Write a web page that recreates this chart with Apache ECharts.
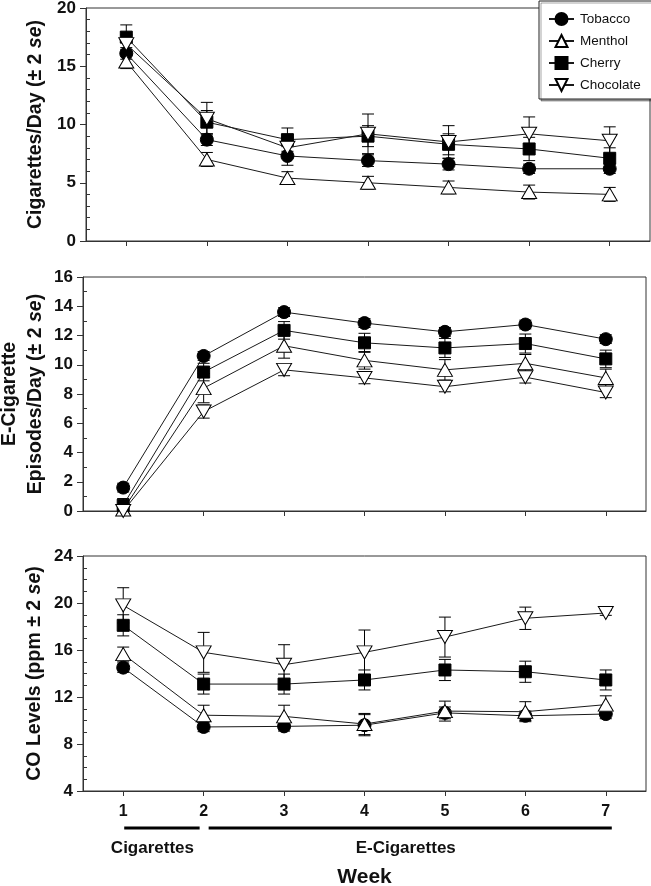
<!DOCTYPE html>
<html>
<head>
<meta charset="utf-8">
<script src="https://cdn.jsdelivr.net/npm/echarts@6/dist/echarts.min.js"></script>
<style>
html,body{margin:0;padding:0;background:#fff;}
#main{width:651px;height:886px;}
</style>
</head>
<body>
<div id="main"></div>
<script>
// ---------- data ----------
const weeks = ['1', '2', '3', '4', '5', '6', '7'];
const flavors = ['Tobacco', 'Menthol', 'Cherry', 'Chocolate'];

// Panel 1: Cigarettes/Day
const cigTobacco   = [16.1, 8.7, 7.3, 6.9, 6.6, 6.2, 6.2];
const cigTobaccoErr = [0.5, 0.5, 0.8, 0.5, 0.5, 0.4, 0.4];
const cigMenthol   = [15.4, 7.0, 5.4, 5.0, 4.6, 4.2, 4.0];
const cigMentholErr = [0.6, 0.6, 0.55, 0.55, 0.55, 0.6, 0.6];
const cigCherry    = [17.5, 10.2, 8.7, 9.0, 8.3, 7.9, 7.1];
const cigCherryErr = [1.05, 1.0, 1.0, 0.9, 0.9, 1.0, 0.9];
const cigChocolate = [16.9, 10.5, 8.0, 9.2, 8.5, 9.2, 8.6];
const cigChocolateErr = [0.8, 1.4, 0.9, 1.7, 1.4, 1.45, 1.2];

// Panel 2: E-Cigarette Episodes/Day
const ecTobacco   = [1.6, 10.6, 13.6, 12.85, 12.25, 12.75, 11.75];
const ecTobaccoErr = [0.3, 0.3, 0.3, 0.3, 0.3, 0.3, 0.3];
const ecMenthol   = [0.1, 8.4, 11.3, 10.3, 9.65, 10.1, 9.1];
const ecMentholErr = [0.3, 1.0, 0.85, 0.6, 0.7, 0.6, 0.6];
const ecCherry    = [0.4, 9.5, 12.35, 11.5, 11.15, 11.45, 10.4];
const ecCherryErr = [0.45, 0.6, 0.6, 0.65, 0.65, 0.65, 0.6];
const ecChocolate = [0.0, 6.8, 9.65, 9.1, 8.5, 9.15, 8.1];
const ecChocolateErr = [0.2, 0.45, 0.4, 0.4, 0.35, 0.4, 0.35];

// Panel 3: CO Levels
const coTobacco   = [14.5, 9.45, 9.5, 9.6, 10.65, 10.4, 10.55];
const coTobaccoErr = [0.4, 0.4, 0.4, 0.9, 0.5, 0.4, 0.4];
const coMenthol   = [15.65, 10.45, 10.35, 9.7, 10.8, 10.75, 11.35];
const coMentholErr = [0.6, 0.85, 0.95, 0.9, 0.85, 0.85, 0.75];
const coCherry    = [18.1, 13.1, 13.1, 13.45, 14.3, 14.15, 13.45];
const coCherryErr = [0.9, 0.85, 0.85, 0.85, 0.9, 0.9, 0.85];
const coChocolate = [19.8, 15.8, 14.75, 15.8, 17.1, 18.7, 19.15];
const coChocolateErr = [1.5, 1.7, 1.7, 1.9, 1.7, 0.95, 0.2];

// axis tick settings
const yMins = [0, 0, 4];
const yMaxs = [20, 16, 24];
const yIntervals = [5, 2, 4];
const yMinorSplits = [5, 2, 4];
const yTitles = [
  'Cigarettes/Day (± 2 {i|se})',
  'E-Cigarette\nEpisodes/Day (± 2 {i|se})',
  'CO Levels (ppm ± 2 {i|se})'
];
const periodLabels = ['Cigarettes', 'E-Cigarettes'];
const xTitle = 'Week';

const panels = [
  [cigTobacco, cigMenthol, cigCherry, cigChocolate],
  [ecTobacco, ecMenthol, ecCherry, ecChocolate],
  [coTobacco, coMenthol, coCherry, coChocolate]
];
const panelErrs = [
  [cigTobaccoErr, cigMentholErr, cigCherryErr, cigChocolateErr],
  [ecTobaccoErr, ecMentholErr, ecCherryErr, ecChocolateErr],
  [coTobaccoErr, coMentholErr, coCherryErr, coChocolateErr]
];

// ---------- styles ----------
const FONT = 'Liberation Sans, Arial, sans-serif';
const INK = '#111';
const AXIS = '#333';
const downTri = 'path://M0,0 L20,0 L10,17 Z';
const upTri = 'path://M10,0 L20,17 L0,17 Z';
const flavorStyle = [
  { symbol: 'circle', size: 13, fill: '#000' },
  { symbol: upTri, size: [15, 13], fill: '#fff' },
  { symbol: 'rect', size: 12, fill: '#000' },
  { symbol: downTri, size: [15, 13], fill: '#fff' }
];
const nameGaps = [37, 34, 35];

const grids = [
  { left: 86, top: 8, width: 564, height: 233 },
  { left: 83, top: 277, width: 563, height: 234 },
  { left: 83, top: 556, width: 563, height: 235 }
].map(g => Object.assign({
  show: true, borderColor: AXIS, borderWidth: 1, backgroundColor: 'transparent',
  containLabel: false, outerBoundsMode: 'none'
}, g));

const xAxes = [0, 1, 2].map(p => ({
  gridIndex: p,
  type: 'category',
  data: weeks,
  boundaryGap: true,
  axisLine: { show: true, lineStyle: { color: AXIS, width: 1 } },
  axisTick: { show: true, alignWithLabel: true, length: 5, lineStyle: { color: AXIS } },
  axisLabel: {
    show: p === 2, margin: 13, fontSize: 16, fontWeight: 'bold', color: INK, fontFamily: FONT
  },
  splitLine: { show: false }
}));

const yAxes = [];
[0, 1, 2].forEach(p => {
  yAxes.push({
    gridIndex: p,
    type: 'value',
    position: 'left',
    min: yMins[p], max: yMaxs[p], interval: yIntervals[p],
    axisLine: { show: true, lineStyle: { color: AXIS, width: 1 } },
    axisTick: { show: true, length: 6, lineStyle: { color: AXIS } },
    axisLabel: { margin: 10, fontSize: 17, fontWeight: 'bold', color: INK, fontFamily: FONT },
    splitLine: { show: false },
    name: yTitles[p],
    nameLocation: 'middle',
    nameRotate: 90,
    nameGap: nameGaps[p],
    nameMoveOverlap: false,
    nameTextStyle: {
      fontSize: 19.5, fontWeight: 'bold', color: INK, fontFamily: FONT, lineHeight: 26,
      rich: { i: { fontSize: 19.5, fontWeight: 'bold', fontStyle: 'italic', color: INK, fontFamily: FONT, lineHeight: 26 } }
    }
  });
  yAxes.push({
    gridIndex: p,
    type: 'value',
    position: 'left',
    min: yMins[p], max: yMaxs[p], interval: yIntervals[p],
    axisLine: { show: false },
    axisTick: { show: false, inside: true },
    minorTick: { show: true, splitNumber: yMinorSplits[p], length: 4, lineStyle: { color: AXIS } },
    axisLabel: { show: false },
    splitLine: { show: false }
  });
});

const series = [];
[0, 1, 2].forEach(p => {
  flavors.forEach((name, f) => {
    const vals = panels[p][f];
    const errs = panelErrs[p][f];
    series.push({
      type: 'custom',
      xAxisIndex: p, yAxisIndex: 2 * p,
      z: 1,
      silent: true,
      data: vals.map((v, i) => [i, v, errs[i]]),
      encode: { x: 0, y: 1 },
      renderItem: function (params, api) {
        const i = api.value(0), m = api.value(1), e = api.value(2);
        const t = api.coord([i, m + e]);
        const b = api.coord([i, m - e]);
        const w = 6;
        const st = { stroke: '#000', lineWidth: 1 };
        return {
          type: 'group',
          children: [
            { type: 'line', shape: { x1: t[0], y1: t[1], x2: b[0], y2: b[1] }, style: st },
            { type: 'line', shape: { x1: t[0] - w, y1: t[1], x2: t[0] + w, y2: t[1] }, style: st },
            { type: 'line', shape: { x1: b[0] - w, y1: b[1], x2: b[0] + w, y2: b[1] }, style: st }
          ]
        };
      }
    });
  });
  flavors.forEach((name, f) => {
    const s = flavorStyle[f];
    series.push({
      type: 'line',
      name: name,
      xAxisIndex: p, yAxisIndex: 2 * p,
      z: 3 + f,
      data: panels[p][f],
      symbol: s.symbol,
      symbolSize: s.size,
      showAllSymbol: true,
      lineStyle: { color: '#1a1a1a', width: 1 },
      itemStyle: { color: s.fill, borderColor: '#000', borderWidth: 1 },
      emphasis: { disabled: true },
      animation: false
    });
  });
});

const chart = echarts.init(document.getElementById('main'), null, { renderer: 'canvas' });
chart.setOption({
  animation: false,
  backgroundColor: '#fff',
  grid: grids,
  xAxis: xAxes,
  yAxis: yAxes,
  legend: {
    data: flavors,
    orient: 'vertical',
    left: 539,
    top: 1,
    padding: [11, 11, 7, 9],
    itemGap: 8,
    itemWidth: 25,
    itemHeight: 15,
    backgroundColor: '#fff',
    borderColor: '#222',
    borderWidth: 1,
    shadowColor: 'rgba(0,0,0,0.35)',
    shadowOffsetX: 2,
    shadowOffsetY: 2,
    shadowBlur: 0,
    selectedMode: false,
    textStyle: { fontSize: 13.5, color: INK, fontFamily: FONT, padding: [0, 0, 0, 1] }
  },
  series: series
});

// period bars and labels beneath the week axis, positioned via the axis scale
const px = w => chart.convertToPixel({ xAxisIndex: 2 }, w);
const gBottom = 791;
const barY = gBottom + 37;
chart.setOption({
  graphic: [
    { type: 'line', shape: { x1: px('1') + 1, y1: barY, x2: px('2') - 4, y2: barY }, style: { stroke: '#000', lineWidth: 3 } },
    { type: 'line', shape: { x1: px('2') + 5, y1: barY, x2: px('7') + 6, y2: barY }, style: { stroke: '#000', lineWidth: 3 } },
    { type: 'text', x: (px('1') + px('2')) / 2 - 11, y: barY + 20, style: { text: periodLabels[0], fontSize: 17, fontWeight: 'bold', fill: INK, fontFamily: FONT, align: 'center', verticalAlign: 'middle' } },
    { type: 'text', x: (px('4') + px('5')) / 2 + 1, y: barY + 20, style: { text: periodLabels[1], fontSize: 17, fontWeight: 'bold', fill: INK, fontFamily: FONT, align: 'center', verticalAlign: 'middle' } },
    { type: 'text', x: px('4') - 0, y: barY + 49, style: { text: xTitle, fontSize: 21, fontWeight: 'bold', fill: INK, fontFamily: FONT, align: 'center', verticalAlign: 'middle' } }
  ]
});
</script>
</body>
</html>
